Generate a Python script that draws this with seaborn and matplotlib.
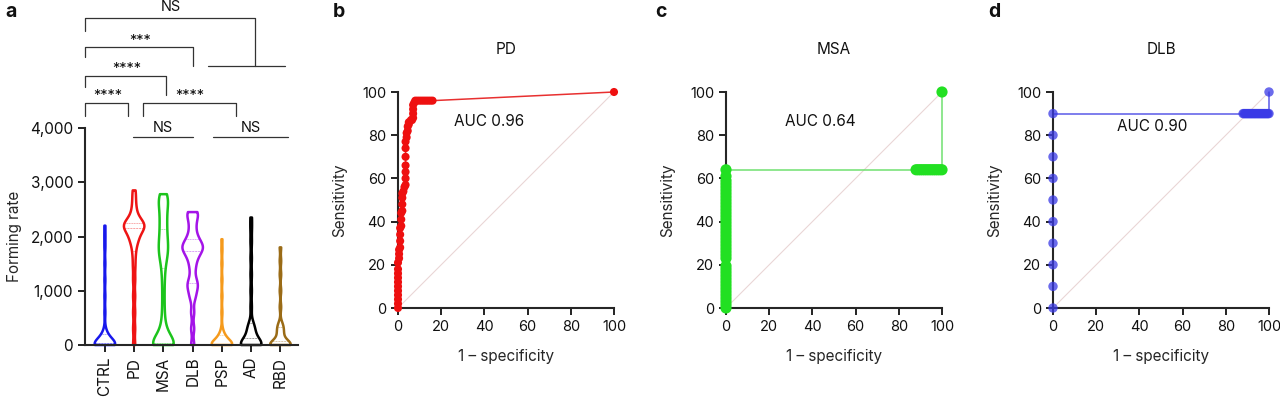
import numpy as np
import pandas as pd
import matplotlib
matplotlib.use("Agg")
import matplotlib.pyplot as plt
import seaborn as sns

# ---------------- data ----------------
groups = ["CTRL", "PD", "MSA", "DLB", "PSP", "AD", "RBD"]
group_colors = ["#1818ec", "#ee1414", "#1cc41c", "#a414e8", "#f59a1c", "#000000", "#9a6b16"]

ctrl_vals = [0, 0, 0, 0, 0, 0, 0, 0, 0, 0, 0, 0, 0, 0, 0, 0, 20, 40, 60, 80, 100, 120, 140, 160, 180, 200,
             300, 600, 900, 1200, 1500, 1800, 2000, 2200]
pd_vals = [0, 300, 600, 900, 1200, 1450, 1650, 1800, 1900, 1950, 2000, 2050, 2100, 2150, 2150, 2200, 2200,
           2200, 2200, 2250, 2250, 2300, 2350, 2450, 2550, 2700, 2850]
msa_vals = [0, 0, 0, 0, 0, 0, 0, 0, 0, 0, 60, 120, 180, 240, 300, 450, 650, 900, 1150, 1350, 1500,
            1600, 1660, 1720, 1780, 1840, 1900, 1960, 2040, 2120, 2200, 2280, 2360, 2440, 2520, 2600,
            2660, 2700, 2740, 2780]
dlb_vals = [0, 300, 600, 850, 950, 1050, 1100, 1150, 1250, 1400, 1500, 1600, 1650, 1700, 1750, 1780, 1800,
            1820, 1850, 1900, 1950, 2000, 2100, 2200, 2300, 2380, 2450, 2450]
psp_vals = [0, 0, 0, 0, 0, 0, 0, 0, 0, 0, 0, 0, 0, 0, 0, 0, 20, 40, 60, 80, 100, 120, 140, 160, 180, 200,
            300, 600, 900, 1200, 1500, 1750, 1950]
ad_vals = [0, 0, 0, 0, 0, 0, 0, 0, 0, 0, 0, 0, 40, 80, 120, 160, 200, 240, 280, 320, 360, 400,
           700, 1000, 1300, 1600, 1900, 2150, 2350]
rbd_vals = [0, 0, 0, 0, 0, 0, 0, 0, 0, 0, 0, 0, 40, 80, 120, 160, 200, 240, 280, 320, 360, 400,
            700, 1000, 1300, 1550, 1800]

yticks_a = [0, 1000, 2000, 3000, 4000]
ytick_labels_a = ["0", "1,000", "2,000", "3,000", "4,000"]

pd_fpr = [0, 0, 0, 0, 0, 0, 0, 0, 0, 0, 0, 0.5, 0.5, 0.5, 1, 1, 1, 1, 1.5, 1.5, 1.5, 2, 2, 2, 2, 2.5, 3,
          3.5, 3.5, 3.5, 3.5, 3.5, 3.5, 3.5, 4, 4, 4.5, 4.5, 5, 5, 6, 6.5, 7, 7, 7, 7, 7.5, 8,
          9, 10, 11, 12, 13, 14, 15, 16, 100]
pd_tpr = [0, 2, 4, 6, 8, 10, 12, 14, 16, 18, 21, 23, 25, 27, 28, 31, 34, 37, 38, 41, 44, 45, 48, 51, 53, 54, 56,
          57, 60, 63, 66, 70, 74, 77, 79, 81, 82, 84, 85, 86, 87, 87, 88, 90, 92, 94, 95, 96,
          96, 96, 96, 96, 96, 96, 96, 96, 100]

msa_fpr = [0, 0, 0, 0, 0, 0, 0, 0, 0, 0, 0, 0, 0, 0,
           0, 0, 0, 0, 0, 0, 0, 0, 0, 0, 0, 0, 0, 0, 0, 0, 0, 0, 0, 0, 0, 0, 0, 0, 0, 0, 0,
           88, 89, 90, 91, 92, 93, 94, 95, 96, 97, 98, 99, 100, 100]
msa_tpr = [0, 1.5, 3, 4.5, 6, 7.5, 9, 10.5, 12, 13.5, 15, 16.5, 18, 19.5,
           23, 24.5, 26, 27.5, 29, 30.5, 32, 33.5, 35, 36.5, 38, 39.5, 41, 42.5, 44, 45.5, 47, 48.5, 50,
           51.5, 53, 54.5, 56, 57.5, 59, 61, 64,
           64, 64, 64, 64, 64, 64, 64, 64, 64, 64, 64, 64, 64, 100]

dlb_fpr = [0, 0, 0, 0, 0, 0, 0, 0, 0, 0, 88, 88.5, 89, 89.5, 90, 90.5, 91, 91.5, 92, 92.5, 93, 93.5, 94,
           94.5, 95, 95.5, 96, 96.5, 97, 97.5, 98, 98.5, 99, 99.5, 100, 100]
dlb_tpr = [0, 10, 20, 30, 40, 50, 60, 70, 80, 90, 90, 90, 90, 90, 90, 90, 90, 90, 90, 90, 90, 90, 90,
           90, 90, 90, 90, 90, 90, 90, 90, 90, 90, 90, 90, 100]

roc_ticks = [0, 20, 40, 60, 80, 100]

# ---------------- style ----------------
sns.set_theme(style="ticks")
plt.rcParams['font.family'] = ['Inter', 'DejaVu Sans']
plt.rcParams['font.size'] = 11
plt.rcParams['axes.linewidth'] = 1.5
plt.rcParams['xtick.major.width'] = 1.3
plt.rcParams['ytick.major.width'] = 1.3
plt.rcParams['xtick.major.size'] = 5
plt.rcParams['ytick.major.size'] = 5
plt.rcParams['xtick.labelsize'] = 10.5
plt.rcParams['ytick.labelsize'] = 10.5
plt.rcParams['text.color'] = '#111111'
plt.rcParams['xtick.color'] = '#111111'
plt.rcParams['ytick.color'] = '#111111'

W, H = 1280, 401
fig = plt.figure(figsize=(W / 100, H / 100), dpi=100)

# ---------------- panel a ----------------
axa = fig.add_axes([85 / W, (H - 345) / H, 213 / W, 217 / H])
vals_map = {"CTRL": ctrl_vals, "PD": pd_vals, "MSA": msa_vals, "DLB": dlb_vals,
            "PSP": psp_vals, "AD": ad_vals, "RBD": rbd_vals}
df = pd.DataFrame([(g, v) for g in groups for v in vals_map[g]], columns=["group", "value"])
sns.violinplot(data=df, x="group", y="value", hue="group", order=groups, hue_order=groups,
               palette=group_colors, fill=False, cut=0, density_norm="width", width=0.7,
               linewidth=1.8, inner="quart", inner_kws=dict(linewidth=0.6, alpha=0.45), bw_adjust=0.3,
               legend=False, ax=axa)
axa.set_ylim(0, 4000)
axa.set_xlim(-0.68, 6.6)
axa.set_yticks(yticks_a)
axa.set_yticklabels(ytick_labels_a)
axa.tick_params(axis='both', labelsize=11)
axa.set_xlabel("")
axa.set_ylabel("Forming rate", fontsize=11, labelpad=6)
axa.tick_params(axis='x', rotation=90)
sns.despine(ax=axa)
for coll in axa.collections:
    coll.set_clip_on(False)

bk = dict(color="#333333", lw=0.9, clip_on=False, transform=axa.transData)
def bracket(x1, x2, y, y1d, y2d):
    axa.plot([x1, x1, x2, x2], [y1d, y, y, y2d], **bk)

bracket(-0.68, 5.14, 6030, 5780, 5140)
axa.plot([3.53, 6.16], [5143, 5143], **bk)
bracket(-0.68, 3.01, 5493, 5309, 5143)
bracket(-0.68, 2.09, 4959, 4756, 4608)
bracket(-0.68, 0.79, 4461, 4221, 4221)
bracket(1.3, 4.49, 4461, 4221, 4221)
axa.plot([0.96, 3.01], [3834, 3834], **bk)
axa.plot([3.7, 6.27], [3834, 3834], **bk)
tk = dict(ha="center", va="center", fontsize=10.5, clip_on=False)
axa.text(0.1, 4590, "****", **tk)
axa.text(2.9, 4590, "****", **tk)
axa.text(0.75, 5088, "****", **tk)
axa.text(1.2, 5604, "***", **tk)
axa.text(2.25, 6230, "NS", **tk)
axa.text(1.98, 4000, "NS", **tk)
axa.text(5.0, 4000, "NS", **tk)

# ---------------- ROC panels ----------------
def roc(left_px, fpr, tpr, title, auc_txt, auc_xy, mcolor, lcolor, ms, alpha):
    ax = fig.add_axes([left_px / W, (H - 308) / H, 216 / W, 216 / H])
    sns.lineplot(x=[0, 100], y=[0, 100], color="#ead6d6", lw=0.8, ax=ax, zorder=1)
    sns.lineplot(x=fpr, y=tpr, sort=False, estimator=None, color=lcolor, lw=1.1, ax=ax,
                 zorder=2, clip_on=False)
    sns.scatterplot(x=fpr, y=tpr, color=mcolor, s=ms, edgecolor="none", alpha=alpha, ax=ax,
                    zorder=3, clip_on=False, legend=False)
    ax.set_xlim(0, 100)
    ax.set_ylim(0, 100)
    ax.set_xticks(roc_ticks)
    ax.set_yticks(roc_ticks)
    ax.set_xlabel("1 \u2013 specificity", fontsize=11, labelpad=11)
    ax.set_ylabel("Sensitivity", fontsize=11, labelpad=11)
    ax.set_title(title, fontsize=11, pad=27)
    ax.text(auc_xy[0], auc_xy[1], auc_txt, ha="center", va="center", fontsize=11)
    sns.despine(ax=ax)
    return ax

roc(398, pd_fpr, pd_tpr, "PD", "AUC 0.96", (42, 86.5), "#ee1010", "#e83030", 34, 1.0)
roc(726, msa_fpr, msa_tpr, "MSA", "AUC 0.64", (43.5, 86.5), "#22e022", "#70e070", 65, 1.0)
roc(1053, dlb_fpr, dlb_tpr, "DLB", "AUC 0.90", (46, 84), "#3a3ae6", "#5a5ae8", 46, 0.75)

# panel letters
for letter, xp in [("a", 5), ("b", 333), ("c", 655), ("d", 988)]:
    fig.text(xp / W, 1 - 12 / H, letter, fontsize=14, fontweight="bold", ha="left", va="center")

fig.savefig("out.png", dpi=100)
